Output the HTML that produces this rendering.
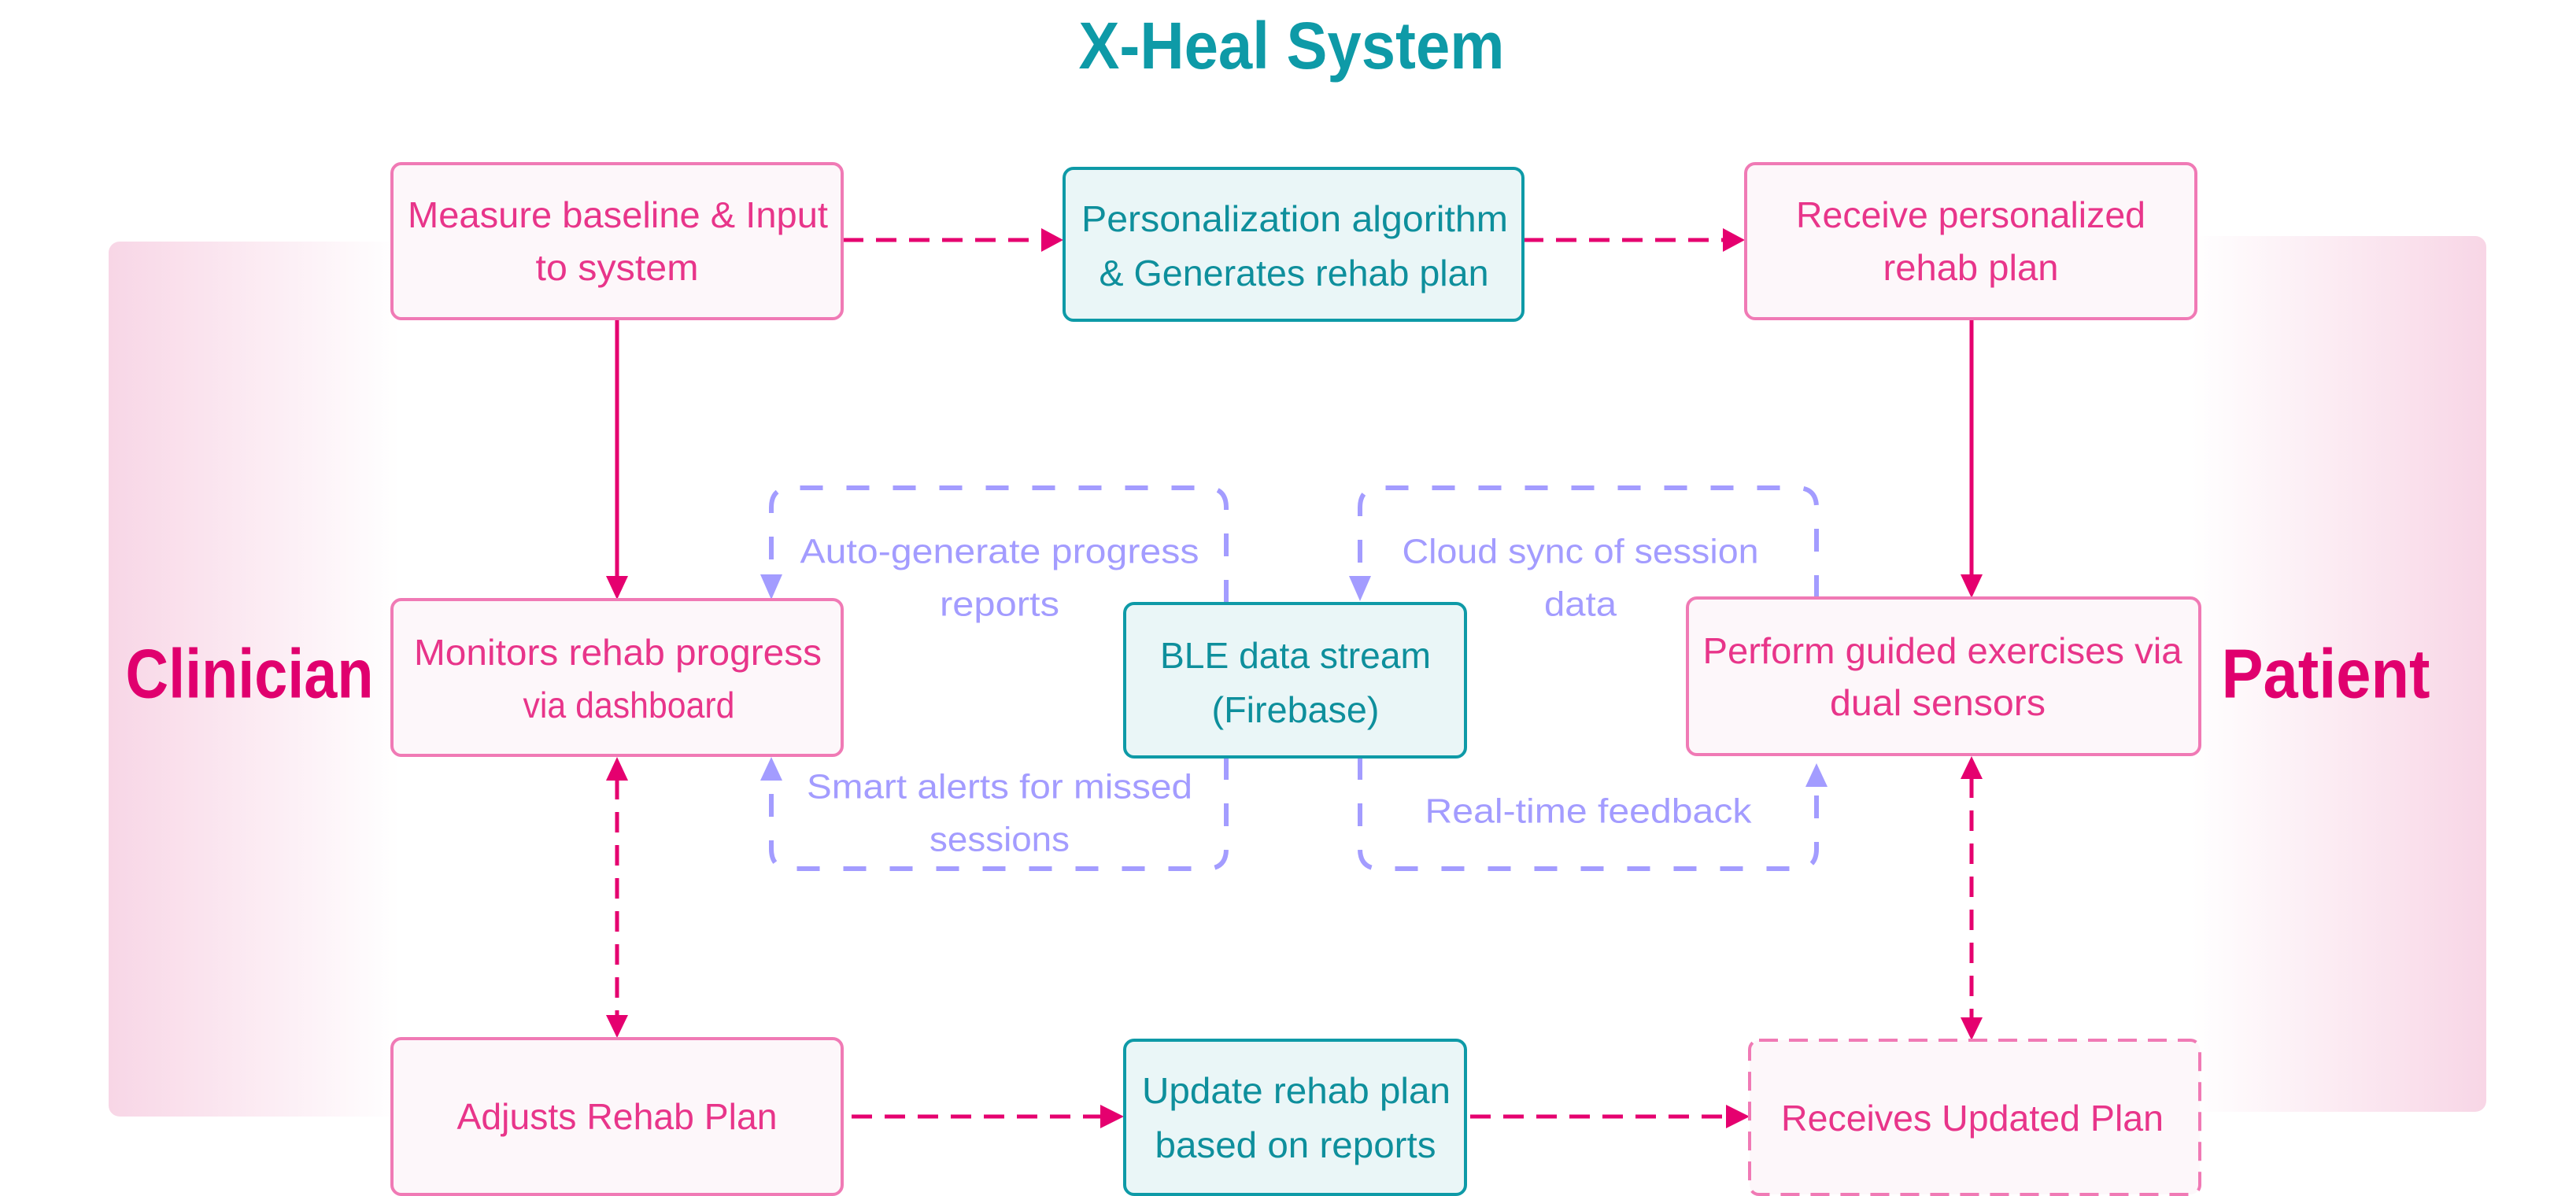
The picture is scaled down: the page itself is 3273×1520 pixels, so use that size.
<!DOCTYPE html>
<html><head><meta charset="utf-8"><style>
html,body{margin:0;padding:0;background:#fff;}
svg{display:block;}
text{font-family:"Liberation Sans",sans-serif;}
</style></head><body>
<svg width="3273" height="1520" viewBox="0 0 3273 1520" xmlns="http://www.w3.org/2000/svg">
<defs>
<linearGradient id="gl" x1="0" y1="0" x2="1" y2="0">
<stop offset="0" stop-color="#f8d6e6"/><stop offset="1" stop-color="#ffffff"/></linearGradient>
<linearGradient id="gr" x1="0" y1="0" x2="1" y2="0">
<stop offset="0" stop-color="#ffffff"/><stop offset="1" stop-color="#f8d6e6"/></linearGradient>
</defs>
<rect x="138" y="307" width="370" height="1112" rx="14" fill="url(#gl)"/>
<rect x="2785" y="300" width="374" height="1113" rx="14" fill="url(#gr)"/>

<text x="1641" y="58" font-size="84" font-weight="bold" fill="#0e9aa7" text-anchor="middle" dominant-baseline="central" textLength="541" lengthAdjust="spacingAndGlyphs">X-Heal System</text>
<text x="317" y="856" font-size="88" font-weight="bold" fill="#e0006e" text-anchor="middle" dominant-baseline="central" textLength="315" lengthAdjust="spacingAndGlyphs">Clinician</text>
<text x="2955" y="856" font-size="88" font-weight="bold" fill="#e0006e" text-anchor="middle" dominant-baseline="central" textLength="265" lengthAdjust="spacingAndGlyphs">Patient</text>

<!-- purple loops -->
<g fill="none" stroke="#a39cff" stroke-width="6" stroke-dasharray="29 30">
<path d="M1558 766 V645 Q1558 620 1533 620 H1005 Q980 620 980 645 V735"/>
<path d="M1558 962 V1079 Q1558 1104 1533 1104 H1005 Q980 1104 980 1079 V995"/>
<path d="M2308 760 V645 Q2308 620 2283 620 H1753 Q1728 620 1728 645 V735"/>
<path d="M1728 962 V1079 Q1728 1104 1753 1104 H2283 Q2308 1104 2308 1079 V1000"/>
</g>
<g fill="#a39cff">
<polygon points="966,730 994,730 980,762"/>
<polygon points="966,992 994,992 980,962"/>
<polygon points="1714,732 1742,732 1728,764"/>
<polygon points="2294,1000 2322,1000 2308,970"/>
</g>
<g font-size="44" fill="#a39cff" text-anchor="middle" dominant-baseline="central">
<text x="1270" y="701" textLength="507" lengthAdjust="spacingAndGlyphs">Auto-generate progress</text>
<text x="1270" y="768" textLength="152" lengthAdjust="spacingAndGlyphs">reports</text>
<text x="1270" y="1000" textLength="490" lengthAdjust="spacingAndGlyphs">Smart alerts for missed</text>
<text x="1270" y="1067" textLength="178" lengthAdjust="spacingAndGlyphs">sessions</text>
<text x="2008" y="701" textLength="453" lengthAdjust="spacingAndGlyphs">Cloud sync of session</text>
<text x="2008" y="768" textLength="92" lengthAdjust="spacingAndGlyphs">data</text>
<text x="2018" y="1031" textLength="415" lengthAdjust="spacingAndGlyphs">Real-time feedback</text>
</g>

<!-- pink connectors -->
<g fill="none" stroke="#e5006f" stroke-width="5">
<path d="M1071 305 H1325" stroke-dasharray="26 16"/>
<path d="M1935 305 H2192" stroke-dasharray="26 16"/>
<path d="M784 405 V735"/>
<path d="M2505 405 V733"/>
<path d="M784 990 V1292" stroke-dasharray="26 16"/>
<path d="M2505 988 V1295" stroke-dasharray="26 16"/>
<path d="M1082 1419 H1400" stroke-dasharray="26 16"/>
<path d="M1868 1419 H2195" stroke-dasharray="26 16"/>
</g>
<g fill="#e5006f">
<polygon points="1323,290 1351,305 1323,320"/>
<polygon points="2189,290 2217,305 2189,320"/>
<polygon points="770,732 798,732 784,762"/>
<polygon points="2491,730 2519,730 2505,760"/>
<polygon points="770,992 798,992 784,962"/>
<polygon points="770,1290 798,1290 784,1319"/>
<polygon points="2491,990 2519,990 2505,961"/>
<polygon points="2491,1293 2519,1293 2505,1322"/>
<polygon points="1398,1404 1428,1419 1398,1434"/>
<polygon points="2193,1404 2223,1419 2193,1434"/>
</g>

<!-- boxes -->
<g stroke-width="4">
<rect x="498" y="208" width="572" height="197" rx="12" fill="#fdf7fa" stroke="#f07ab5"/>
<rect x="1352" y="214" width="583" height="193" rx="12" fill="#eaf6f7" stroke="#0e9aa7"/>
<rect x="2218" y="208" width="572" height="197" rx="12" fill="#fdf7fa" stroke="#f07ab5"/>
<rect x="498" y="762" width="572" height="198" rx="12" fill="#fdf7fa" stroke="#f07ab5"/>
<rect x="1429" y="767" width="433" height="195" rx="12" fill="#eaf6f7" stroke="#0e9aa7"/>
<rect x="2144" y="760" width="651" height="199" rx="12" fill="#fdf7fa" stroke="#f07ab5"/>
<rect x="498" y="1320" width="572" height="198" rx="12" fill="#fdf7fa" stroke="#f07ab5"/>
<rect x="1429" y="1322" width="433" height="196" rx="12" fill="#eaf6f7" stroke="#0e9aa7"/>
<rect x="2223" y="1322" width="572" height="196" rx="12" fill="#fdf7fa" stroke="#f07ab5" stroke-dasharray="24 14"/>
</g>
<g font-size="46" text-anchor="middle" dominant-baseline="central">
<g fill="#e8358a">
<text x="785" y="273" textLength="534" lengthAdjust="spacingAndGlyphs">Measure baseline &amp; Input</text>
<text x="784" y="340" textLength="207" lengthAdjust="spacingAndGlyphs">to system</text>
<text x="2504" y="273" textLength="444" lengthAdjust="spacingAndGlyphs">Receive personalized</text>
<text x="2504" y="340" textLength="223" lengthAdjust="spacingAndGlyphs">rehab plan</text>
<text x="785" y="829" textLength="518" lengthAdjust="spacingAndGlyphs">Monitors rehab progress</text>
<text x="799" y="896" textLength="269" lengthAdjust="spacingAndGlyphs">via dashboard</text>
<text x="2468" y="827" textLength="609" lengthAdjust="spacingAndGlyphs">Perform guided exercises via</text>
<text x="2462" y="893" textLength="274" lengthAdjust="spacingAndGlyphs">dual sensors</text>
<text x="784" y="1419" textLength="407" lengthAdjust="spacingAndGlyphs">Adjusts Rehab Plan</text>
<text x="2506" y="1421" textLength="486" lengthAdjust="spacingAndGlyphs">Receives Updated Plan</text>
</g>
<g fill="#0e8f9c">
<text x="1645" y="278" textLength="542" lengthAdjust="spacingAndGlyphs">Personalization algorithm</text>
<text x="1644" y="347" textLength="495" lengthAdjust="spacingAndGlyphs">&amp; Generates rehab plan</text>
<text x="1646" y="833" textLength="344" lengthAdjust="spacingAndGlyphs">BLE data stream</text>
<text x="1646" y="902" textLength="213" lengthAdjust="spacingAndGlyphs">(Firebase)</text>
<text x="1647" y="1386" textLength="392" lengthAdjust="spacingAndGlyphs">Update rehab plan</text>
<text x="1646" y="1455" textLength="357" lengthAdjust="spacingAndGlyphs">based on reports</text>
</g>
</g>
</svg>
</body></html>
